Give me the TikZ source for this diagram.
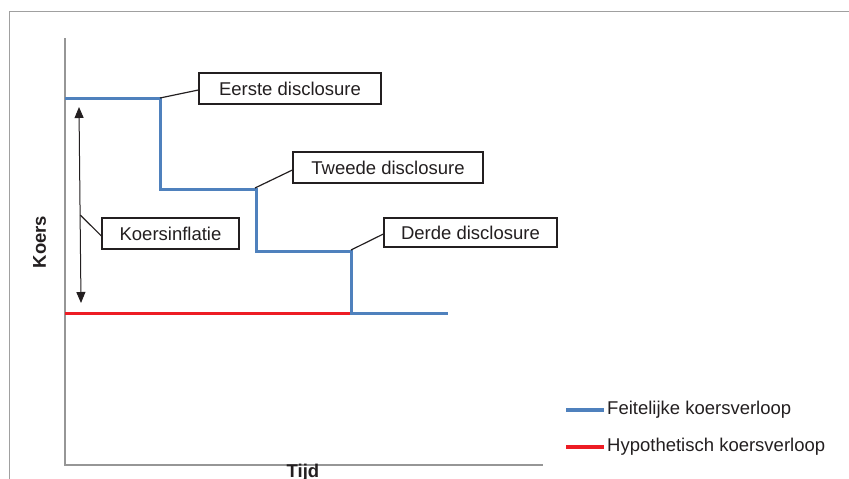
\documentclass[tikz,border=0pt]{standalone}
\usepackage{fontspec}
\setmainfont{Liberation Sans}
\usetikzlibrary{arrows.meta}
\definecolor{xlblue}{RGB}{79,129,189}
\definecolor{xlred}{RGB}{237,28,36}
\definecolor{framegray}{RGB}{160,160,160}
\definecolor{axisgray}{RGB}{150,150,150}
\definecolor{txt}{RGB}{35,31,32}
\tikzset{
  callout/.style={draw=txt, line width=1.2pt, fill=white, inner sep=0pt, minimum height=31pt, text=txt,
    font=\fontsize{18.5}{22}\selectfont},
  leader/.style={draw=txt, line width=1.2pt},
  actual/.style={draw=xlblue, line width=3pt},
  hypo/.style={draw=xlred, line width=3pt},
  axisline/.style={draw=axisgray, line width=1.4pt},
  axlabel/.style={font=\fontsize{18.5}{22}\selectfont\bfseries, text=txt, inner sep=0pt},
  legtext/.style={font=\fontsize{18.5}{22}\selectfont, text=txt, inner sep=0pt, anchor=west}
}
\begin{document}
\begin{tikzpicture}[x=1pt,y=-1pt]
\useasboundingbox (0,0) rectangle (849,479);
% frame
\draw[framegray, line width=1pt] (9,479) -- (9,11) -- (849,11);
% axes
\coordinate (o) at (65,465);
\coordinate (ytop) at (65,38);
\coordinate (xend) at (543,465);
\draw[axisline] (ytop) -- (o) -- (xend);
% step corners
\coordinate (s0) at (65,98);
\coordinate (s1) at (160,98);
\coordinate (s2) at (160,189);
\coordinate (s3) at (256,189);
\coordinate (s4) at (256,251);
\coordinate (s5) at (351,251);
\coordinate (s6) at (351,313);
\coordinate (s7) at (448,313);
\coordinate (r0) at (65,313);
% hypothetical
\draw[hypo] (r0) -- (s6);
% actual
\draw[actual] (s0) -- (s1) -- (s2) -- (s3) -- (s4) -- (s5) -- (s6) -- (s7);
% arrow
\coordinate (atop) at (79,107);
\coordinate (abot) at (81,303);
\draw[txt, line width=1pt, {Triangle[length=11pt,width=9pt]}-{Triangle[length=11pt,width=9pt]}] (atop) -- (abot);
\coordinate (amid) at (80.3,215);
% callouts
\node[callout, minimum width=182pt] (e1) at (290,88.5) {Eerste disclosure};
\node[callout, minimum width=190pt] (e2) at (388,167.5) {Tweede disclosure};
\node[callout, minimum width=173pt, minimum height=29pt] (e3) at (470.5,232.5) {Derde disclosure};
\node[callout, minimum width=137pt] (ki) at (170.5,233.5) {Koersinflatie};
\draw[leader] (s1) -- ([yshift=-1.5pt]e1.west);
\draw[leader] ([xshift=-1pt,yshift=1pt]s3) -- ([yshift=-2.5pt]e2.west);
\draw[leader] ([yshift=1pt]s5) -- ([yshift=-1.5pt]e3.west);
\draw[leader] (amid) -- ([yshift=-2.5pt]ki.west);
% axis labels
\node[axlabel, rotate=90] (ky) at (39.5,242) {Koers};
\node[axlabel, anchor=north] (kx) at (303,464) {Tijd};
% legend
\coordinate (lb0) at (566,410);
\coordinate (lb1) at (604,410);
\coordinate (lr0) at (566,447);
\coordinate (lr1) at (604,447);
\draw[actual, line width=3.5pt] (lb0) -- (lb1);
\draw[hypo, line width=3.5pt] (lr0) -- (lr1);
\node[legtext] (lbt) at (607,410) {Feitelijke koersverloop};
\node[legtext] (lrt) at (607,447) {Hypothetisch koersverloop};
\end{tikzpicture}
\end{document}
